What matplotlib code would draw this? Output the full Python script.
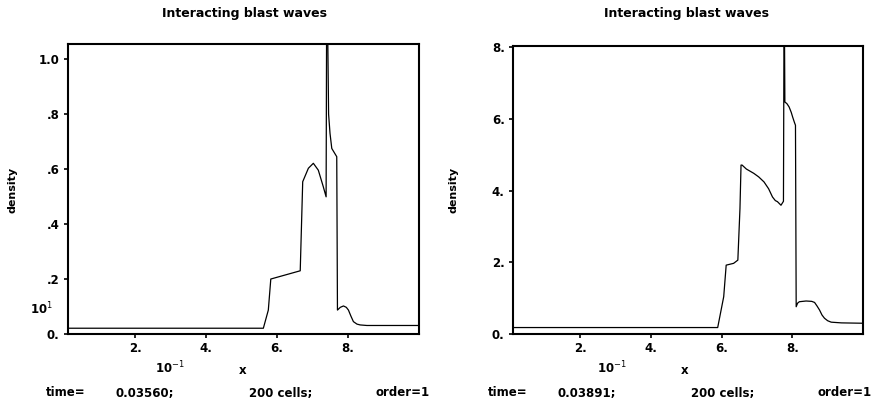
import numpy as np
import matplotlib.pyplot as plt

# density profiles read at two output times (x in [0,1])
left_x = [0.0025, 0.561, 0.575, 0.582, 0.665, 0.672, 0.688, 0.702, 0.716, 0.730, 0.738,
          0.740, 0.745, 0.749, 0.754, 0.768, 0.770, 0.778, 0.787, 0.795, 0.801, 0.808,
          0.815, 0.825, 0.834, 0.853, 1.0]
left_rho = [0.21, 0.21, 0.87, 2.0, 2.3, 5.54, 6.03, 6.21, 5.96, 5.36, 4.99,
            14.0, 8.0, 7.3, 6.75, 6.45, 0.87, 0.97, 1.02, 0.97, 0.87, 0.65,
            0.45, 0.36, 0.33, 0.31, 0.31]

right_x = [0.0025, 0.589, 0.606, 0.613, 0.634, 0.646, 0.652, 0.655, 0.658, 0.670, 0.691,
           0.705, 0.720, 0.733, 0.744, 0.752, 0.758, 0.768, 0.775, 0.777, 0.779, 0.785,
           0.791, 0.797, 0.801, 0.806, 0.809, 0.811, 0.815, 0.820, 0.839, 0.855, 0.863,
           0.870, 0.877, 0.884, 0.891, 0.900, 0.910, 0.939, 1.0]
right_rho = [0.18, 0.18, 1.04, 1.92, 1.97, 2.06, 3.5, 4.71, 4.71, 4.60, 4.48,
             4.38, 4.24, 4.05, 3.82, 3.72, 3.69, 3.59, 3.7, 10.0, 6.47, 6.42,
             6.33, 6.18, 6.05, 5.90, 5.82, 0.76, 0.86, 0.90, 0.92, 0.91, 0.88,
             0.78, 0.67, 0.53, 0.44, 0.37, 0.33, 0.31, 0.30]

title = 'Interacting blast waves'
x_ticks = [0.2, 0.4, 0.6, 0.8]
x_labels = ['2.', '4.', '6.', '8.']
left_yticks = [0, 2, 4, 6, 8, 10]
left_ylabels = ['0.', '.2', '.4', '.6', '.8', '1.0']
right_yticks = [0, 2, 4, 6, 8]
right_ylabels = ['0.', '2.', '4.', '6.', '8.']
times = ['0.03560;', '0.03891;']

fig = plt.figure(figsize=(8.84, 4.0), dpi=100)
W, H = 884, 400


def fx(px):
    return px / W


def fy(py):
    return 1 - py / H


panels = [
    dict(x=left_x, y=left_rho, box=(68, 44, 419, 334), ytop=10.55,
         yt=left_yticks, yl=left_ylabels, off=0, time=times[0]),
    dict(x=right_x, y=right_rho, box=(513, 46, 863, 334), ytop=8.03,
         yt=right_yticks, yl=right_ylabels, off=442, time=times[1]),
]

font = dict(family='DejaVu Sans', weight='bold')

for p in panels:
    l, t, r, b = p['box']
    ax = fig.add_axes([fx(l), fy(b), fx(r - l), (b - t) / H])
    ax.plot(p['x'], p['y'], color='black', lw=0.9)
    ax.set_xlim(0.01, 1.0)
    ax.set_ylim(0, p['ytop'])
    ax.set_xticks(x_ticks)
    ax.set_xticklabels(x_labels, fontsize=8.5, **font)
    ax.set_yticks(p['yt'])
    ax.set_yticklabels(p['yl'], fontsize=8.5, **font)
    ax.tick_params(direction='out', length=3, width=1.2, pad=3)
    for s in ax.spines.values():
        s.set_linewidth(1.5)
    o = p['off']
    fig.text(fx(o + 245), fy(13), title, ha='center', va='center', fontsize=9, **font)
    fig.text(fx(o + 12), fy(190), 'density', rotation=90, ha='center', va='center',
             fontsize=8, **font)
    fig.text(fx(o + 170), fy(368), r'10$^{-1}$', ha='center', va='center', fontsize=8.5,
             **font)
    fig.text(fx(o + 243), fy(370), 'x', ha='center', va='center', fontsize=8.5, **font)
    # footer line: time, grid size and scheme order
    fig.text(fx(o + 66), fy(393), 'time=', ha='center', va='center', fontsize=8.5, **font)
    fig.text(fx(o + 145), fy(393), p['time'], ha='center', va='center', fontsize=8.5, **font)
    fig.text(fx(o + 281), fy(393), '200 cells;', ha='center', va='center', fontsize=8.5, **font)
    fig.text(fx(o + 403), fy(393), 'order=1', ha='center', va='center', fontsize=8.5, **font)

# exponent for the left density axis
fig.text(fx(41), fy(309), r'10$^{1}$', ha='center', va='center', fontsize=8.5, **font)

fig.savefig('out.png', dpi=100)
